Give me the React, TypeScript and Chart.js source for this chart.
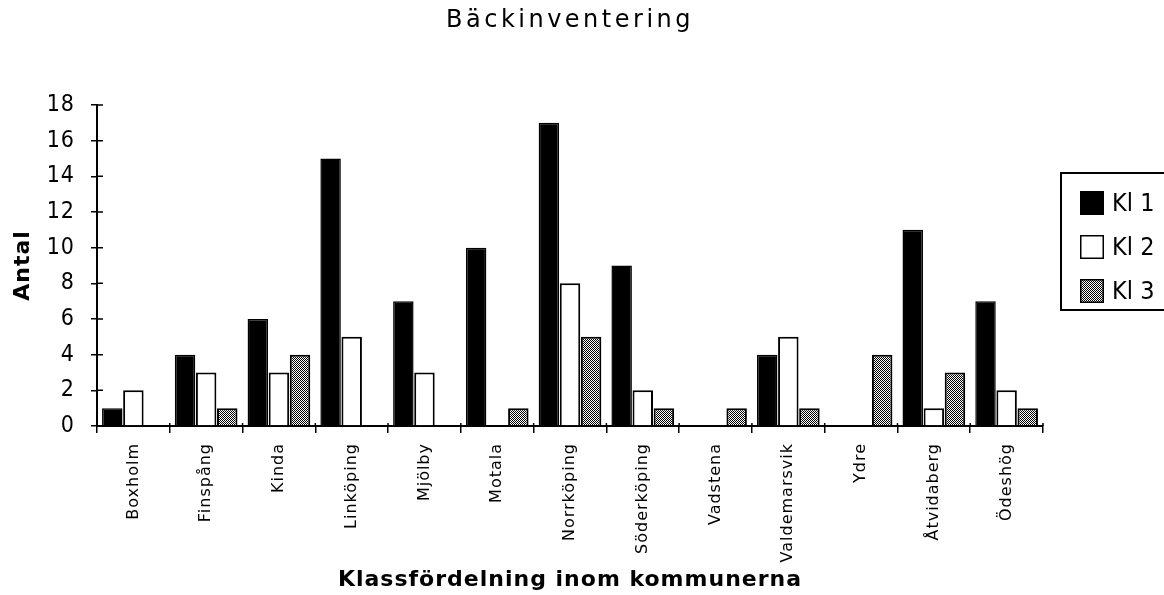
import React, { useEffect, useRef } from "react";
import { Chart, registerables } from "chart.js";

Chart.register(...registerables);

const categories = [
  "Boxholm",
  "Finspång",
  "Kinda",
  "Linköping",
  "Mjölby",
  "Motala",
  "Norrköping",
  "Söderköping",
  "Vadstena",
  "Valdemarsvik",
  "Ydre",
  "Åtvidaberg",
  "Ödeshög",
];
const seriesNames = ["Kl 1", "Kl 2", "Kl 3"];
const kl1 = [1, 4, 6, 15, 7, 10, 17, 9, 0, 4, 0, 11, 7];
const kl2 = [2, 3, 3, 5, 3, 0, 8, 2, 0, 5, 0, 1, 2];
const kl3 = [0, 1, 4, 0, 0, 1, 5, 1, 1, 1, 4, 3, 1];
const yTicks = [0, 2, 4, 6, 8, 10, 12, 14, 16, 18];
const chartTitle = "Bäckinventering";
const xTitle = "Klassfördelning inom kommunerna";
const yTitle = "Antal";

function makePattern(): CanvasPattern | string {
  const c = document.createElement("canvas");
  c.width = 2;
  c.height = 2;
  const g = c.getContext("2d");
  if (!g) return "#888";
  g.fillStyle = "#ffffff";
  g.fillRect(0, 0, 2, 2);
  g.fillStyle = "#000000";
  g.fillRect(0, 0, 1, 1);
  g.fillRect(1, 1, 1, 1);
  const p = g.createPattern(c, "repeat");
  return p || "#888";
}

const spacing = {
  id: "spacing",
  afterInit(chart: any) {
    const tb = chart.titleBlock;
    if (tb && !tb.__wrapped) {
      const orig = tb.draw.bind(tb);
      tb.draw = function (...args: any[]) {
        const c: any = chart.ctx;
        const prev = c.letterSpacing;
        c.letterSpacing = "3.5px";
        orig(...args);
        c.letterSpacing = prev;
      };
      tb.__wrapped = true;
    }
  },
  beforeDraw(chart: any) {
    (chart.ctx as any).letterSpacing = "1px";
  },
  afterDraw(chart: any) {
    (chart.ctx as any).letterSpacing = "0px";
  },
};

const crossTicks = {
  id: "crossTicks",
  afterDatasetsDraw(chart: any) {
    const ctx = chart.ctx;
    const y = chart.scales.y;
    const x = chart.scales.x;
    ctx.save();
    ctx.strokeStyle = "#000";
    ctx.lineWidth = 1.5;
    ctx.beginPath();
    y.ticks.forEach((_t: any, i: number) => {
      const py = y.getPixelForTick(i);
      ctx.moveTo(y.right, py);
      ctx.lineTo(y.right + 6, py);
    });
    const n = categories.length;
    const w = (x.right - x.left) / n;
    for (let i = 0; i <= n; i++) {
      const px = x.getPixelForTick(0) - w / 2 + i * w;
      ctx.moveTo(px, x.top);
      ctx.lineTo(px, x.top - 3);
    }
    ctx.stroke();
    ctx.restore();
  },
};

const boxLegend = {
  id: "boxLegend",
  afterDraw(chart: any) {
    const ctx: any = chart.ctx;
    const area = chart.chartArea;
    const bx = area.right + 18;
    const by = area.top + 68;
    ctx.save();
    ctx.letterSpacing = "0px";
    ctx.strokeStyle = "#000";
    ctx.lineWidth = 2;
    ctx.strokeRect(bx, by, 140, 137);
    ctx.font = "25px 'Liberation Sans Narrow', 'DejaVu Sans Condensed', sans-serif";
    ctx.textBaseline = "middle";
    ctx.textAlign = "left";
    chart.data.datasets.forEach((ds: any, i: number) => {
      const sx = bx + 19;
      const sy = by + 18 + i * 44;
      ctx.fillStyle = ds.backgroundColor;
      ctx.fillRect(sx, sy, 24, 24);
      ctx.lineWidth = 1.5;
      ctx.strokeStyle = "#000";
      ctx.strokeRect(sx + 0.75, sy + 0.75, 22.5, 22.5);
      ctx.fillStyle = "#000";
      ctx.fillText(ds.label, sx + 32, sy + 13);
    });
    ctx.restore();
  },
};

export default function App() {
  const ref = useRef<HTMLCanvasElement | null>(null);

  useEffect(() => {
    if (!ref.current) return;
    const pattern = makePattern();
    const chart = new Chart(ref.current, {
      type: "bar",
      data: {
        labels: categories,
        datasets: [
          {
            label: seriesNames[0],
            data: kl1,
            backgroundColor: "#000000",
            borderColor: "#000000",
            borderWidth: 1.5,
          },
          {
            label: seriesNames[1],
            data: kl2,
            backgroundColor: "#ffffff",
            borderColor: "#000000",
            borderWidth: 2,
          },
          {
            label: seriesNames[2],
            data: kl3,
            backgroundColor: pattern as any,
            borderColor: "#000000",
            borderWidth: 2,
          },
        ],
      },
      plugins: [spacing, crossTicks, boxLegend],
      options: {
        animation: false,
        responsive: true,
        maintainAspectRatio: false,
        devicePixelRatio: 1,
        layout: { padding: { left: 0, right: 121, top: 0, bottom: 0 } },
        datasets: {
          bar: { categoryPercentage: 0.87, barPercentage: 0.97 },
        },
        plugins: {
          legend: { display: false },
          tooltip: { enabled: false },
          title: {
            display: true,
            text: chartTitle,
            fullSize: false,
            color: "#000",
            font: { family: "'DejaVu Sans', sans-serif", size: 24, weight: "normal" },
            padding: { top: 6, bottom: 70.2 },
          },
        },
        scales: {
          x: {
            grid: {
              display: true,
              drawOnChartArea: false,
              drawTicks: true,
              tickLength: 7,
              color: "#000",
              lineWidth: 1.5,
              offset: true,
            },
            border: { display: true, color: "#000", width: 2 },
            ticks: {
              autoSkip: false,
              minRotation: 90,
              maxRotation: 90,
              padding: 10,
              color: "#000",
              font: { family: "'DejaVu Sans', sans-serif", size: 16 },
            },
            title: {
              display: true,
              text: xTitle,
              color: "#000",
              font: { family: "'DejaVu Sans', sans-serif", size: 22, weight: "bold" },
              padding: { top: 0, bottom: 1.8 },
            },
            afterFit(scale: any) {
              scale.height = 169;
            },
          },
          y: {
            min: 0,
            max: 18,
            afterBuildTicks(scale: any) {
              scale.ticks = yTicks.map((v) => ({ value: v }));
            },
            grid: {
              display: true,
              drawOnChartArea: false,
              drawTicks: true,
              tickLength: 6,
              color: "#000",
              lineWidth: 1.5,
            },
            border: { display: true, color: "#000", width: 2 },
            ticks: {
              padding: 16,
              color: "#000",
              font: { family: "'Liberation Sans Narrow', 'DejaVu Sans Condensed', sans-serif", size: 23 },
            },
            title: {
              display: true,
              text: yTitle,
              color: "#000",
              font: { family: "'DejaVu Sans', sans-serif", size: 22, weight: "bold" },
              padding: { top: 10, bottom: 0 },
            },
            afterFit(scale: any) {
              scale.width = 97;
            },
          },
        },
      } as any,
    });
    return () => chart.destroy();
  }, []);

  return (
    <div style={{ position: "fixed", left: 0, top: 0, width: 1164, height: 595, background: "#fff" }}>
      <canvas ref={ref} />
    </div>
  );
}
